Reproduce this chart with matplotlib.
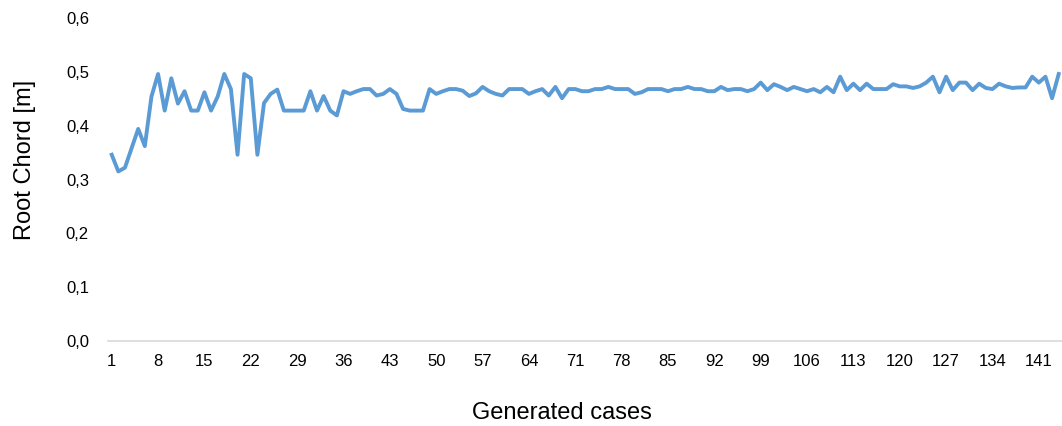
import matplotlib
matplotlib.use("Agg")
import matplotlib.pyplot as plt
from matplotlib.ticker import FuncFormatter

plt.rcParams['font.family'] = ['Liberation Sans', 'DejaVu Sans']

# root chord [m] for each generated case (1..144)
root_chord = [
    0.346, 0.315, 0.322, 0.358, 0.394, 0.362, 0.454, 0.496, 0.428, 0.488,
    0.441, 0.464, 0.428, 0.428, 0.462, 0.428, 0.454, 0.496, 0.468, 0.346,
    0.496, 0.488, 0.346, 0.442, 0.459, 0.467, 0.428, 0.428, 0.428, 0.428,
    0.464, 0.428, 0.455, 0.428, 0.419, 0.464, 0.459, 0.464, 0.468, 0.468,
    0.456, 0.459, 0.468, 0.459, 0.431, 0.428, 0.428, 0.428, 0.468, 0.459,
    0.464, 0.468, 0.468, 0.465, 0.455, 0.460, 0.472, 0.464, 0.459, 0.456,
    0.468, 0.468, 0.468, 0.459, 0.464, 0.468, 0.456, 0.472, 0.451, 0.468,
    0.468, 0.464, 0.464, 0.468, 0.468, 0.472, 0.468, 0.468, 0.468, 0.459,
    0.462, 0.468, 0.468, 0.468, 0.464, 0.468, 0.468, 0.472, 0.468, 0.468,
    0.464, 0.464, 0.472, 0.466, 0.468, 0.468, 0.464, 0.468, 0.480, 0.466,
    0.477, 0.472, 0.466, 0.472, 0.468, 0.464, 0.468, 0.462, 0.472, 0.462,
    0.491, 0.466, 0.478, 0.466, 0.478, 0.468, 0.468, 0.468, 0.477, 0.473,
    0.473, 0.470, 0.473, 0.480, 0.491, 0.462, 0.491, 0.466, 0.480, 0.480,
    0.466, 0.478, 0.470, 0.468, 0.478, 0.473, 0.470, 0.471, 0.471, 0.491,
    0.480, 0.491, 0.451, 0.496,
]
cases = list(range(1, len(root_chord) + 1))
x_ticks = list(range(1, len(root_chord) + 1, 7))
y_ticks = [0.0, 0.1, 0.2, 0.3, 0.4, 0.5, 0.6]

W, H = 1062, 426
fig = plt.figure(figsize=(W / 100, H / 100), dpi=100)
ax = fig.add_axes([108.4 / W, (H - 341) / H, (W - 108.4) / W, (341 - 18) / H])

ax.plot(cases, root_chord, color="#5B9BD5", linewidth=2.8, solid_joinstyle="round")

ax.set_xlim(0.5, len(root_chord) + 0.5)
ax.set_ylim(0, 0.6)
ax.set_xticks(x_ticks)
ax.set_yticks(y_ticks)
ax.yaxis.set_major_formatter(FuncFormatter(lambda v, p: f"{v:.1f}".replace(".", ",")))

for s in ["top", "right", "left"]:
    ax.spines[s].set_visible(False)
ax.spines["bottom"].set_color("#d9d9d9")
ax.spines["bottom"].set_linewidth(1.2)
ax.tick_params(axis="both", length=0, labelsize=12, colors="#000000")
ax.tick_params(axis="x", pad=9)
ax.tick_params(axis="y", pad=14)
ax.patch.set_visible(False)
ax.spines["bottom"].set_clip_on(False)

fig.text(562 / W, (H - 419) / H, "Generated cases", fontsize=17,
         ha="center", va="baseline")
fig.text(24.7 / W, (H - 160) / H, "Root Chord [m]", fontsize=17,
         rotation=90, ha="center", va="center")

fig.savefig("out.png", dpi=100)
